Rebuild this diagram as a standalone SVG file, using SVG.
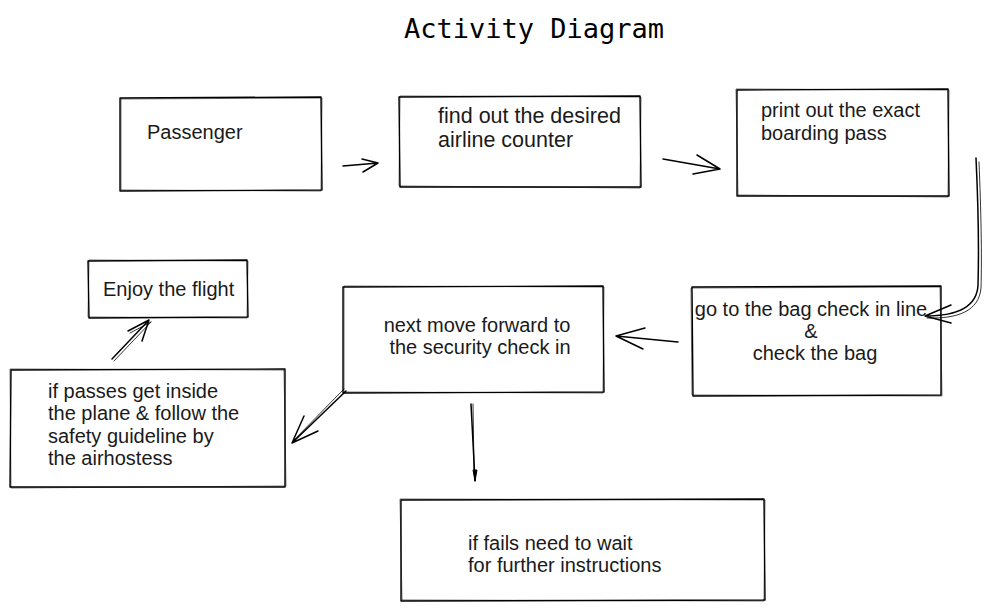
<svg xmlns="http://www.w3.org/2000/svg" width="990" height="609" viewBox="0 0 990 609">
<defs>
<style>
.box{fill:#ffffff;stroke:#000;stroke-width:1.4;stroke-linejoin:round;}
.box2{fill:none;stroke:#000;stroke-width:0.8;opacity:0.7;}
.lbl{font-family:"Liberation Sans",Arial,sans-serif;font-size:20px;fill:#1a1a1a;}
.title{font-family:"DejaVu Sans Mono","Liberation Mono",monospace;font-size:27px;fill:#000;}
.conn{fill:none;stroke:#000;stroke-width:1.5;stroke-linecap:round;stroke-linejoin:round;}
.conn2{fill:none;stroke:#000;stroke-width:0.8;stroke-linecap:round;}
</style>
</defs>
<rect width="990" height="609" fill="#ffffff"/>
<text class="title" x="404" y="38">Activity Diagram</text>

<g id="node-passenger">
<path class="box" d="M120,98 L321,97 L322,190 L120,191 Z"/>
<path class="box2" d="M121,99 L322,98 L321,191 L121,190 Z"/>
<text class="lbl" x="147" y="139">Passenger</text>
</g>

<g id="node-find">
<path class="box" d="M399,97 L640,96 L641,187 L400,187 Z"/>
<path class="box2" d="M400,96 L641,97 L640,188 L399,186 Z"/>
<text class="lbl" x="438" y="123" style="font-size:21.5px">find out the desired</text>
<text class="lbl" x="438" y="147" style="font-size:21.5px">airline counter</text>
</g>

<g id="node-print">
<path class="box" d="M737,90 L948,89 L949,196 L737,196 Z"/>
<path class="box2" d="M736,89 L949,90 L948,197 L738,195 Z"/>
<text class="lbl" x="761" y="117">print out the exact</text>
<text class="lbl" x="761" y="140">boarding pass</text>
</g>

<g id="node-bag">
<path class="box" d="M692,287 L941,286 L941,395 L693,396 Z"/>
<path class="box2" d="M691,288 L940,287 L942,396 L692,395 Z"/>
<text class="lbl" x="811" y="316" text-anchor="middle">go to the bag check in line</text>
<text class="lbl" x="811" y="338" text-anchor="middle">&amp;</text>
<text class="lbl" x="815" y="360" text-anchor="middle">check the bag</text>
</g>

<g id="node-security">
<path class="box" d="M343,287 L603,286 L604,392 L343,393 Z"/>
<path class="box2" d="M344,286 L604,287 L603,393 L344,392 Z"/>
<text class="lbl" x="477" y="332" text-anchor="middle">next move forward to</text>
<text class="lbl" x="480" y="354" text-anchor="middle">the security check in</text>
</g>

<g id="node-enjoy">
<path class="box" d="M88,261 L247,260 L248,317 L89,318 Z"/>
<path class="box2" d="M89,260 L248,261 L247,318 L88,317 Z"/>
<text class="lbl" x="103" y="296">Enjoy the flight</text>
</g>

<g id="node-passes">
<path class="box" d="M11,370 L285,369 L285,487 L10,487 Z"/>
<path class="box2" d="M10,369 L284,370 L286,486 L11,488 Z"/>
<text class="lbl" x="48" y="397.5">if passes get inside</text>
<text class="lbl" x="48" y="420">the plane &amp; follow the</text>
<text class="lbl" x="48" y="442.5">safety guideline by</text>
<text class="lbl" x="48" y="465">the airhostess</text>
</g>

<g id="node-fails">
<path class="box" d="M401,500 L764,499 L765,600 L401,601 Z"/>
<path class="box2" d="M400,499 L765,500 L764,601 L402,600 Z"/>
<text class="lbl" x="468" y="550">if fails need to wait</text>
<text class="lbl" x="468" y="572">for further instructions</text>
</g>

<g id="connectors">
<!-- passenger -> find -->
<path class="conn" d="M343,166 L378,163 M362,159 L378,163 L363,172"/>
<!-- find -> print -->
<path class="conn" d="M663,159 L720,169 M697,155 L720,169 L693,174"/>
<!-- print -> bag -->
<path class="conn" d="M976,158 C978,200 979,250 978,285 C977,308 955,316 925,316 M951,305 L925,316 L951,323"/>
<path class="conn2" d="M979,162 C981,210 982,255 981,288 C979,311 958,319 927,318"/>
<!-- bag -> security -->
<path class="conn" d="M678,342 L616,336 M645,328 L616,336 L643,349"/>
<!-- security -> passes -->
<path class="conn" d="M346,391 L292,443 M304,416 L292,443 L318,431"/>
<path class="conn2" d="M344,389 L294,440"/>
<!-- passes -> enjoy -->
<path class="conn" d="M112,359 L149,320 M128,331 L149,320 L142,341"/>
<path class="conn2" d="M114,361 L151,322 M130,333 L151,322"/>
<!-- security -> fails -->
<path class="conn" d="M471,404 L475,481"/>
<path class="conn2" d="M473,404 L474,470"/>
<path d="M473,470 L475,481 L477,470 Z" fill="#000" stroke="#000" stroke-width="1"/>
</g>
</svg>
